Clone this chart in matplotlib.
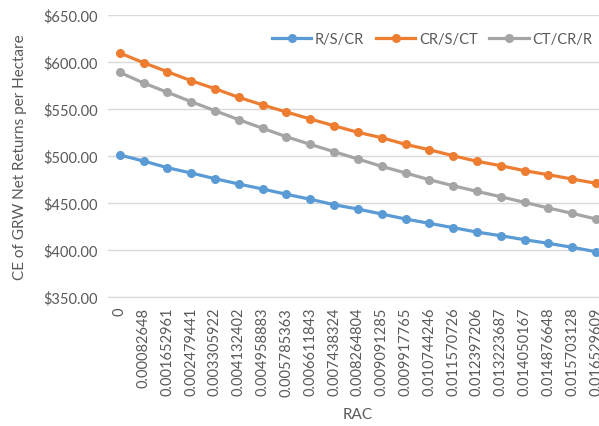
import matplotlib.pyplot as plt
from matplotlib.ticker import FuncFormatter

plt.rcParams['font.family'] = ['Lato', 'DejaVu Sans']

# RAC values on the category axis
rac = ['0', '0.00082648', '0.001652961', '0.002479441', '0.003305922',
       '0.004132402', '0.004958883', '0.005785363', '0.006611843',
       '0.007438324', '0.008264804', '0.009091285', '0.009917765',
       '0.010744246', '0.011570726', '0.012397206', '0.013223687',
       '0.014050167', '0.014876648', '0.015703128', '0.016529609']

# certainty equivalents per rotation
rs_cr = [501.1, 494.7, 487.6, 481.9, 475.9, 470.2, 464.9, 459.3, 454.0, 448.2,
         443.6, 438.3, 433.0, 428.4, 423.8, 419.1, 415.2, 411.0, 407.1, 402.9, 398.2]
cr_s_ct = [609.6, 599.3, 589.7, 580.1, 571.6, 562.4, 554.3, 546.8, 539.4, 532.2,
           525.2, 519.5, 512.4, 506.7, 500.3, 494.4, 489.7, 484.4, 480.1, 475.5, 471.0]
ct_cr_r = [589.0, 577.7, 567.8, 557.8, 548.2, 538.6, 529.5, 520.5, 512.4, 504.6,
           496.8, 489.0, 482.0, 474.8, 468.4, 462.4, 456.7, 450.7, 444.7, 439.0, 433.0]

series = [('R/S/CR', rs_cr, '#5B9BD5'),
          ('CR/S/CT', cr_s_ct, '#ED7D31'),
          ('CT/CR/R', ct_cr_r, '#A5A5A5')]

fig = plt.figure(figsize=(5.99, 4.27), dpi=100)
ax = fig.add_axes([0.180, 0.302, 0.835, 0.6605])

x = range(len(rac))
for name, vals, col in series:
    ax.plot(x, vals, color=col, lw=2.3, marker='o', ms=5.5, label=name)

ax.set_xlim(-0.5, len(rac) - 0.5)
ax.set_ylim(350, 650)
ax.set_yticks(range(350, 651, 50))
ax.yaxis.set_major_formatter(FuncFormatter(lambda v, p: f'${v:,.2f}'))
ax.set_xticks(list(x))
ax.set_xticklabels(rac, rotation=90)
ax.tick_params(length=0, labelsize=10.5, labelcolor='#595959', pad=7)

ax.grid(axis='y', color='#d9d9d9', lw=1)
ax.set_axisbelow(True)
for s in ['top', 'right', 'left']:
    ax.spines[s].set_visible(False)
ax.spines['bottom'].set_color('#d9d9d9')

ax.set_ylabel('CE of GRW Net Returns per Hectare', fontsize=11, color='#595959',
              labelpad=12)
ax.set_xlabel('RAC', fontsize=11, color='#595959', labelpad=8)

leg = ax.legend(loc='upper right', bbox_to_anchor=(0.995, 0.985), ncol=3,
                frameon=False, fontsize=10.5, handlelength=2.7, columnspacing=0.8,
                handletextpad=0.25)
for t in leg.get_texts():
    t.set_color('#595959')

fig.savefig('out.png', dpi=100)
